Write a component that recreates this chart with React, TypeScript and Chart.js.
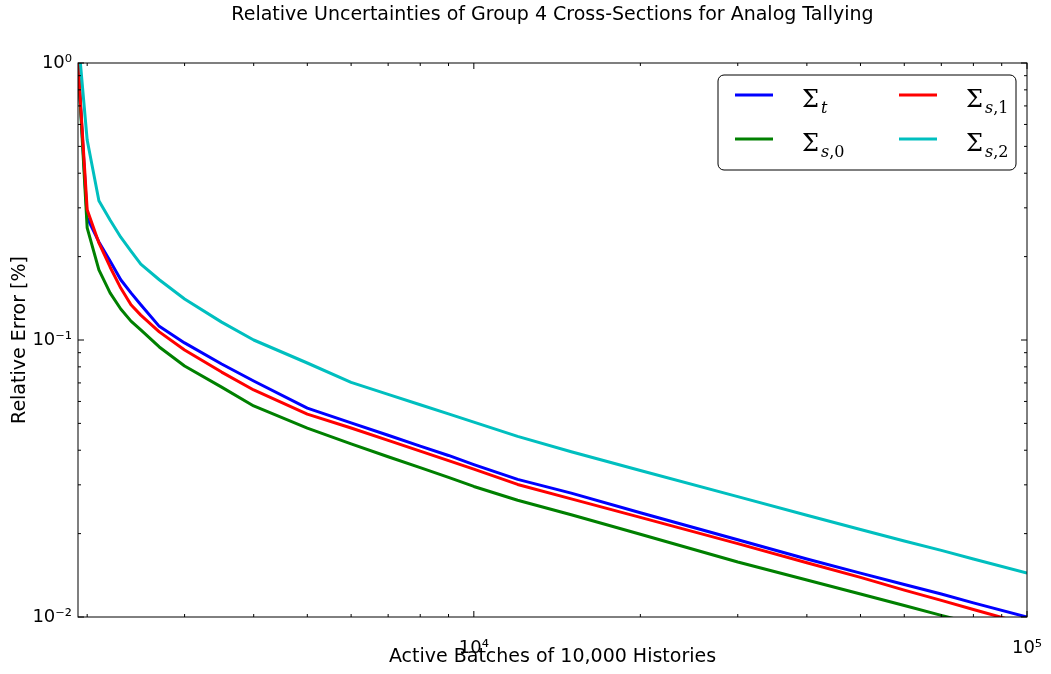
import { useEffect, useRef } from 'react';
import { Chart, registerables } from 'chart.js';

Chart.register(...registerables);

// ---- data ----
const batches = [1925, 2000, 2100, 2200, 2300, 2400, 2500, 2700, 3000, 3500, 4000, 5000, 6000, 7000, 8000, 9000, 10000, 12000, 15000, 20000, 30000, 40000, 50000, 60000, 70000, 80000, 100000];
const sigmaT = [1.0, 0.276, 0.226, 0.193, 0.165, 0.148, 0.134, 0.112, 0.0976, 0.0819, 0.0711, 0.0568, 0.0502, 0.0453, 0.0414, 0.0383, 0.0355, 0.0314, 0.028, 0.0238, 0.019, 0.0162, 0.0144, 0.0131, 0.0121, 0.01125, 0.01];
const sigmaS0 = [1.0, 0.254, 0.179, 0.148, 0.1294, 0.117, 0.1087, 0.0944, 0.0806, 0.0676, 0.0578, 0.0481, 0.0422, 0.0379, 0.0346, 0.0319, 0.0296, 0.0264, 0.0234, 0.0199, 0.0158, 0.0136, 0.0121, 0.011, 0.01014, 0.00946, 0.0084];
const sigmaS1 = [1.0, 0.295, 0.224, 0.1835, 0.154, 0.134, 0.123, 0.107, 0.092, 0.0766, 0.066, 0.054, 0.0481, 0.0434, 0.0397, 0.0367, 0.0342, 0.0301, 0.0267, 0.0229, 0.0184, 0.0157, 0.0139, 0.0125, 0.01148, 0.01064, 0.0094];
const sigmaS2 = [1.25, 0.527, 0.318, 0.271, 0.235, 0.2095, 0.188, 0.165, 0.1406, 0.116, 0.1, 0.0826, 0.0703, 0.0636, 0.0584, 0.0541, 0.0505, 0.0449, 0.0395, 0.0338, 0.0272, 0.0233, 0.0207, 0.0188, 0.0174, 0.0162, 0.0144];

const seriesSubscripts = ['t', 's,0', 's,1', 's,2'];
const seriesColors = ['#0000ff', '#008000', '#ff0000', '#00bfbf'];
const seriesValues = [sigmaT, sigmaS0, sigmaS1, sigmaS2];
const seriesOrder = [4, 3, 2, 1];

const titleText = 'Relative Uncertainties of Group 4 Cross-Sections for Analog Tallying';
const xTitle = 'Active Batches of 10,000 Histories';
const yTitle = 'Relative Error [%]';
const xMin = 1925;
const xMax = 100000;
const yMin = 0.01;
const yMax = 1;

const SUP: Record<string, string> = { '0': '⁰', '1': '¹', '2': '²', '3': '³', '4': '⁴', '5': '⁵', '6': '⁶', '7': '⁷', '8': '⁸', '9': '⁹', '-': '⁻' };
const powLabel = (v: number) => {
  const e = Math.log10(v);
  const r = Math.round(e);
  if (Math.abs(e - r) > 1e-6) return '';
  return '10' + String(r).split('').map((c) => SUP[c] || c).join('');
};

const logTicks = (min: number, max: number) => {
  const out: { v: number; major: boolean }[] = [];
  for (let e = Math.floor(Math.log10(min)); e <= Math.ceil(Math.log10(max)); e++) {
    for (let m = 1; m <= 9; m++) {
      const v = m * Math.pow(10, e);
      if (v >= min * 0.9999 && v <= max * 1.0001) out.push({ v, major: m === 1 });
    }
  }
  return out;
};

const framePlugin = {
  id: 'mplFrame',
  afterDraw(chart: any) {
    const { ctx, chartArea: a, scales } = chart;
    const xs = scales.x;
    const ys = scales.y;
    ctx.save();
    ctx.strokeStyle = '#000';
    ctx.lineWidth = 1;
    const seg = (x1: number, y1: number, x2: number, y2: number) => {
      ctx.beginPath();
      ctx.moveTo(x1, y1);
      ctx.lineTo(x2, y2);
      ctx.stroke();
    };
    for (const t of logTicks(xs.min, xs.max)) {
      const p = xs.getPixelForValue(t.v);
      const len = t.major ? 6 : 3;
      seg(p, a.bottom, p, a.bottom - len);
      seg(p, a.top, p, a.top + len);
    }
    for (const t of logTicks(ys.min, ys.max)) {
      const p = ys.getPixelForValue(t.v);
      const len = t.major ? 6 : 3;
      seg(a.left, p, a.left + len, p);
      seg(a.right, p, a.right - len, p);
    }
    ctx.strokeRect(a.left, a.top, a.right - a.left, a.bottom - a.top);

    // legend (matplotlib style, 2 columns, column-first)
    const box = { x: 718, y: 75, w: 298, h: 95, r: 6 };
    ctx.beginPath();
    if (ctx.roundRect) ctx.roundRect(box.x, box.y, box.w, box.h, box.r);
    else ctx.rect(box.x, box.y, box.w, box.h);
    ctx.fillStyle = '#fff';
    ctx.fill();
    ctx.stroke();
    const colX = [735, 899];
    const rowY = [95, 139];
    chart.data.datasets.forEach((ds: any, i: number) => {
      const col = Math.floor(i / 2);
      const row = i % 2;
      const lx = colX[col];
      const ly = rowY[row];
      ctx.strokeStyle = ds.borderColor;
      ctx.lineWidth = 3;
      seg(lx, ly, lx + 38, ly);
      const tx = lx + 67;
      const base = ly + 12;
      ctx.fillStyle = '#000';
      ctx.textBaseline = 'alphabetic';
      ctx.textAlign = 'left';
      ctx.font = '24px "DejaVu Serif"';
      ctx.fillText('Σ', tx, base);
      let cx = tx + ctx.measureText('Σ').width + 2;
      const sub: string = ds.sub;
      for (const ch of sub.split('')) {
        const italic = /[a-z]/.test(ch);
        ctx.font = (italic ? 'italic ' : '') + '16px "DejaVu Serif"';
        ctx.fillText(ch, cx, base + 6);
        cx += ctx.measureText(ch).width;
      }
    });
    ctx.restore();
  },
};

export default function App() {
  const ref = useRef<HTMLCanvasElement | null>(null);
  useEffect(() => {
    if (!ref.current) return;
    const font = { family: '"DejaVu Sans"', size: 19, weight: 'normal' as const };
    const tickFont = { family: '"DejaVu Sans"', size: 18, weight: 'normal' as const };
    const chart = new Chart(ref.current, {
      type: 'line',
      data: {
        datasets: seriesValues.map((vals, i) => ({
          label: 'Σ_' + seriesSubscripts[i],
          sub: seriesSubscripts[i],
          data: batches.map((x, j) => ({ x, y: vals[j] })),
          borderColor: seriesColors[i],
          backgroundColor: seriesColors[i],
          borderWidth: 3,
          pointRadius: 0,
          tension: 0,
          fill: false,
          clip: 0,
          order: seriesOrder[i],
          borderJoinStyle: 'round',
        })) as any,
      },
      options: {
        animation: false,
        responsive: false,
        devicePixelRatio: 1,
        layout: { padding: { left: 0, right: 24, top: 0, bottom: 0 } },
        plugins: {
          legend: { display: false },
          tooltip: { enabled: false },
          title: {
            display: true,
            text: titleText,
            color: '#000',
            font,
            fullSize: false,
            padding: { top: 3.6, bottom: 36.6 },
          },
        },
        scales: {
          x: {
            type: 'logarithmic',
            min: xMin,
            max: xMax,
            grid: { display: false, drawTicks: false },
            border: { display: false },
            ticks: {
              autoSkip: false,
              maxRotation: 0,
              color: '#000',
              font: tickFont,
              padding: 21,
              callback: (v: any) => (Number(v) >= 10000 ? powLabel(Number(v)) : ''),
            },
            title: { display: true, text: xTitle, color: '#000', font, padding: { top: 0, bottom: 5.6 } },
            afterFit: (s: any) => {
              s.height = 57;
              s.paddingLeft = 0;
              s.paddingRight = 0;
            },
          },
          y: {
            type: 'logarithmic',
            min: yMin,
            max: yMax,
            grid: { display: false, drawTicks: false },
            border: { display: false },
            ticks: {
              autoSkip: false,
              color: '#000',
              font: tickFont,
              padding: 6,
              callback: (v: any) => powLabel(Number(v)),
            },
            title: { display: true, text: yTitle, color: '#000', font, padding: { top: 9, bottom: 0 } },
            afterFit: (s: any) => {
              s.width = 78;
              s.paddingTop = 0;
              s.paddingBottom = 0;
            },
          },
        },
      } as any,
      plugins: [framePlugin],
    });
    return () => chart.destroy();
  }, []);
  return (
    <div style={{ position: 'fixed', left: 0, top: 0, width: 1051, height: 674, background: '#fff' }}>
      <canvas ref={ref} width={1051} height={674} style={{ display: 'block', width: 1051, height: 674 }} />
    </div>
  );
}
